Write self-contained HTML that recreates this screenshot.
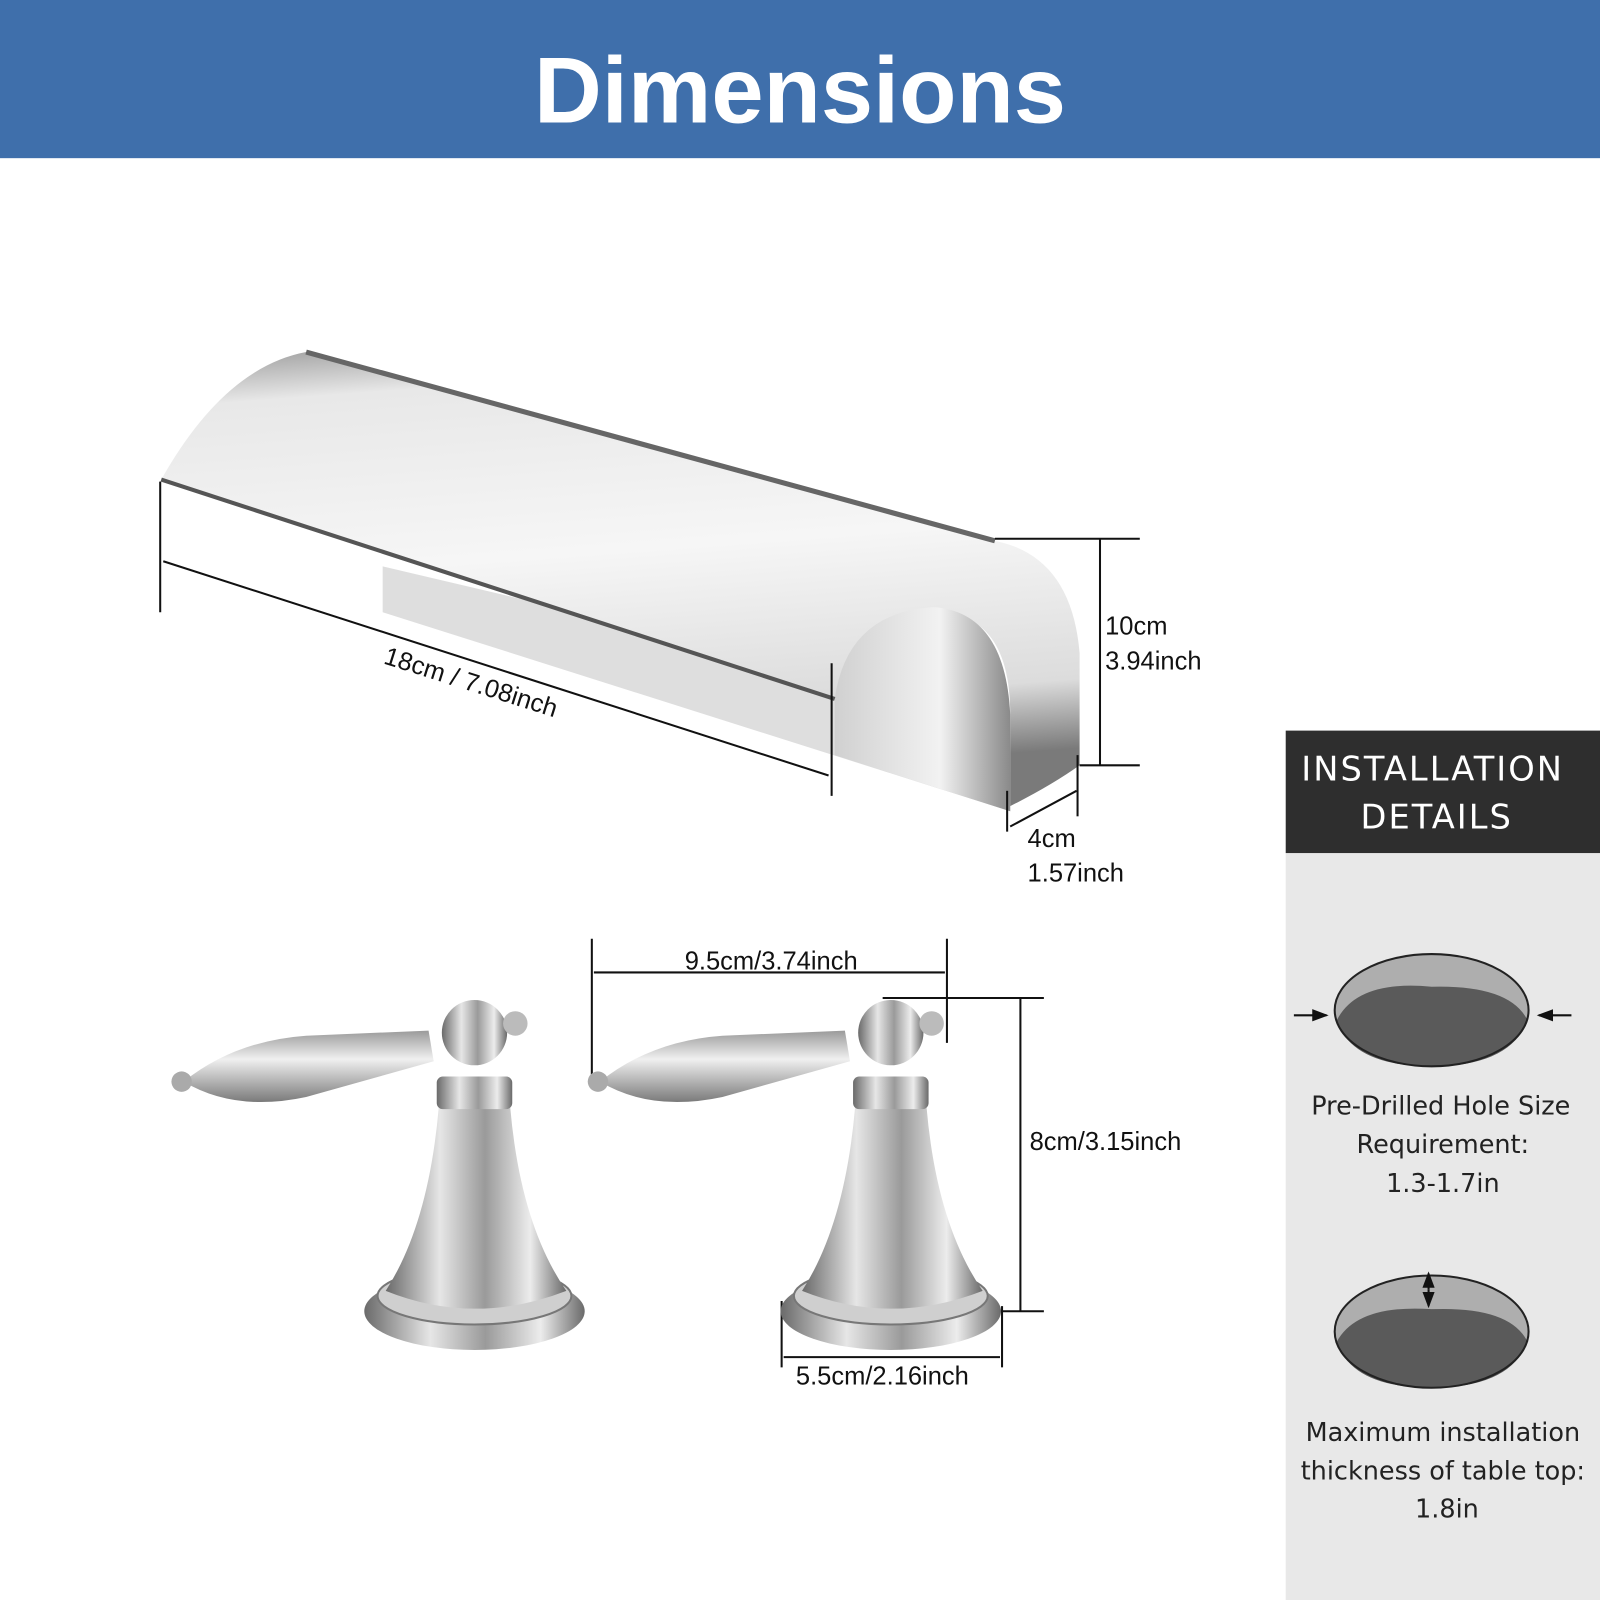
<!DOCTYPE html>
<html><head><meta charset="utf-8"><style>
html,body{margin:0;padding:0;background:#fff;width:1600px;height:1600px;overflow:hidden}
svg{display:block}
text{font-family:"Liberation Sans","DejaVu Sans",sans-serif}
</style></head><body>
<svg width="1600" height="1600" viewBox="0 0 1568 1568" xmlns="http://www.w3.org/2000/svg">
<defs>
<linearGradient id="sp" x1="0" y1="0" x2="0.15" y2="1">
<stop offset="0" stop-color="#9a9a9a"/><stop offset="0.12" stop-color="#e8e8e8"/><stop offset="0.5" stop-color="#f6f6f6"/><stop offset="0.85" stop-color="#dcdcdc"/><stop offset="1" stop-color="#7a7a7a"/></linearGradient>
<linearGradient id="ar" x1="0" y1="0" x2="1" y2="0">
<stop offset="0" stop-color="#d0d0d0"/><stop offset="0.6" stop-color="#f2f2f2"/><stop offset="1" stop-color="#8a8a8a"/></linearGradient>
<linearGradient id="hd" x1="0" y1="0" x2="1" y2="0">
<stop offset="0" stop-color="#6a6a6a"/><stop offset="0.3" stop-color="#e6e6e6"/><stop offset="0.55" stop-color="#9a9a9a"/><stop offset="0.8" stop-color="#ececec"/><stop offset="1" stop-color="#6a6a6a"/></linearGradient>
<linearGradient id="lv" x1="0" y1="0" x2="0" y2="1">
<stop offset="0" stop-color="#9a9a9a"/><stop offset="0.4" stop-color="#f0f0f0"/><stop offset="1" stop-color="#7a7a7a"/></linearGradient>
<marker id="ah" markerWidth="8" markerHeight="6" refX="7" refY="3" orient="auto"><path d="M0,0 L8,3 L0,6 Z" fill="#111"/></marker>
</defs>
<rect x="0" y="0" width="1568" height="155" fill="#3f6fab"/>
<text x="784" y="120" text-anchor="middle" font-size="92" font-weight="bold" fill="#fff">Dimensions</text>

<polygon points="375,555 990,700 990,795 375,600" fill="#dedede"/>
<path d="M158,470 Q220,360 300,345 L975,530 Q1050,545 1058,640 L1058,750 Q1030,770 990,790 L990,700 Q990,600 915,600 Q830,610 818,685 L158,470 Z" fill="url(#sp)"/>
<path d="M818,685 Q830,600 915,595 Q985,600 990,700 L990,795 L818,740 Z" fill="url(#ar)"/>
<path d="M158,470 L818,685" stroke="#555" stroke-width="4" fill="none"/>
<path d="M300,345 L975,530" stroke="#666" stroke-width="5" fill="none"/>

<g stroke="#111" stroke-width="2" fill="none">
<line x1="157" y1="472" x2="157" y2="600"/>
<line x1="160" y1="550" x2="812" y2="760"/>
<line x1="815" y1="650" x2="815" y2="780"/>
<line x1="975" y1="528" x2="1117" y2="528"/>
<line x1="1058" y1="750" x2="1117" y2="750"/>
<line x1="1078" y1="528" x2="1078" y2="750"/>
<line x1="987" y1="775" x2="987" y2="815"/>
<line x1="1056" y1="740" x2="1056" y2="800"/>
<line x1="990" y1="810" x2="1055" y2="775"/>
<line x1="580" y1="920" x2="580" y2="1062"/>
<line x1="928" y1="920" x2="928" y2="1022"/>
<line x1="582" y1="953" x2="926" y2="953"/>
<line x1="865" y1="978" x2="1023" y2="978"/>
<line x1="960" y1="1285" x2="1023" y2="1285"/>
<line x1="1000" y1="978" x2="1000" y2="1285"/>
<line x1="766" y1="1275" x2="766" y2="1340"/>
<line x1="982" y1="1280" x2="982" y2="1340"/>
<line x1="768" y1="1330" x2="980" y2="1330"/>
</g>
<g font-size="25" fill="#111">
<text x="375" y="650" transform="rotate(17.5 375 650)">18cm / 7.08inch</text>
<text x="1083" y="622">10cm</text><text x="1083" y="656">3.94inch</text>
<text x="1007" y="830">4cm</text><text x="1007" y="864">1.57inch</text>
<text x="671" y="950">9.5cm/3.74inch</text>
<text x="1009" y="1127">8cm/3.15inch</text>
<text x="780" y="1357">5.5cm/2.16inch</text>
</g>

<g id="h1">
<ellipse cx="465" cy="1285" rx="108" ry="38" fill="url(#hd)"/>
<ellipse cx="465" cy="1270" rx="95" ry="28" fill="#cfcfcf" stroke="#777" stroke-width="2"/>
<path d="M430,1085 L500,1085 Q510,1200 555,1265 Q465,1300 378,1265 Q420,1200 430,1085 Z" fill="url(#hd)"/>
<rect x="428" y="1055" width="74" height="32" rx="6" fill="url(#hd)"/>
<path d="M180,1060 Q230,1020 300,1015 L420,1010 L425,1040 L300,1075 Q230,1090 180,1060 Z" fill="url(#lv)"/>
<circle cx="178" cy="1060" r="10" fill="#aaa"/>
<circle cx="465" cy="1012" r="32" fill="url(#hd)"/>
<circle cx="505" cy="1003" r="12" fill="#bbb"/>
</g>
<use href="#h1" x="408"/>

<rect x="1260" y="836" width="308" height="732" fill="#e8e8e8"/>
<rect x="1260" y="716" width="308" height="120" fill="#2e2e2e"/>
<g font-size="33" fill="#fff" text-anchor="middle" letter-spacing="2">
<text x="1404" y="765" style="font-family:'DejaVu Sans',sans-serif">INSTALLATION</text>
<text x="1408" y="812" style="font-family:'DejaVu Sans',sans-serif">DETAILS</text>
</g>
<ellipse cx="1403" cy="990" rx="95" ry="55" fill="#aeaeae"/>
<path d="M1310,1000 Q1330,960 1403,967 Q1480,965 1497,1000 Q1480,1045 1403,1045 Q1325,1045 1310,1000 Z" fill="#5a5a5a"/>
<ellipse cx="1403" cy="990" rx="95" ry="55" fill="none" stroke="#222" stroke-width="2"/>
<ellipse cx="1403" cy="1305" rx="95" ry="55" fill="#aeaeae"/>
<path d="M1310,1315 Q1330,1278 1403,1283 Q1480,1280 1497,1315 Q1480,1360 1403,1360 Q1325,1360 1310,1315 Z" fill="#5a5a5a"/>
<ellipse cx="1403" cy="1305" rx="95" ry="55" fill="none" stroke="#222" stroke-width="2"/>
<g stroke="#111" stroke-width="2">
<line x1="1268" y1="995" x2="1300" y2="995" marker-end="url(#ah)"/>
<line x1="1540" y1="995" x2="1508" y2="995" marker-end="url(#ah)"/>
<line x1="1400" y1="1264" x2="1400" y2="1280" marker-end="url(#ah)"/>
<line x1="1400" y1="1264" x2="1400" y2="1248" marker-end="url(#ah)"/>
</g>
<g font-size="25" fill="#222" text-anchor="middle">
<text x="1412" y="1092" style="font-family:'DejaVu Sans',sans-serif">Pre-Drilled Hole Size</text>
<text x="1414" y="1130" style="font-family:'DejaVu Sans',sans-serif">Requirement:</text>
<text x="1414" y="1168" style="font-family:'DejaVu Sans',sans-serif">1.3-1.7in</text>
<text x="1414" y="1412" style="font-family:'DejaVu Sans',sans-serif">Maximum installation</text>
<text x="1414" y="1450" style="font-family:'DejaVu Sans',sans-serif">thickness of table top:</text>
<text x="1418" y="1487" style="font-family:'DejaVu Sans',sans-serif">1.8in</text>
</g>
</svg>
</body></html>
